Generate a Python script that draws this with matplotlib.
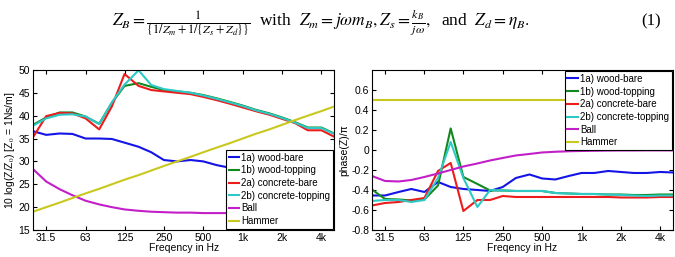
import matplotlib
matplotlib.use("Agg")
import matplotlib.pyplot as plt
from matplotlib.ticker import FixedLocator, NullLocator

plt.rcParams['font.family'] = ['Liberation Sans', 'DejaVu Sans']
plt.rcParams['mathtext.fontset'] = 'stix'

# third-octave band centre frequencies
freq = [25, 31.5, 40, 50, 63, 80, 100, 125, 160, 200, 250, 315,
        400, 500, 630, 800, 1000, 1250, 1600, 2000, 2500, 3150, 4000, 5000]

# impedance level, 10 log(Z/Z0)
lvl_wood_bare = [36.6, 35.8, 36.1, 36.0, 35.0, 35.0, 34.9, 34.1, 33.2, 32.0, 30.3, 30.0,
                 30.3, 30.0, 29.2, 28.6, 28.5, 28.2, 27.8, 27.3, 26.8, 26.3, 26.0, 25.7]
lvl_wood_top = [38.0, 39.6, 40.7, 40.7, 39.8, 38.2, 42.8, 46.5, 47.1, 46.3, 45.6, 45.3,
                45.0, 44.5, 43.8, 43.0, 42.2, 41.3, 40.5, 39.6, 38.6, 37.4, 37.4, 36.1]
lvl_conc_bare = [35.3, 39.9, 40.6, 40.5, 39.4, 37.0, 42.0, 49.1, 46.5, 45.6, 45.3, 45.0,
                 44.7, 44.1, 43.4, 42.6, 41.8, 41.0, 40.2, 39.3, 38.4, 36.8, 36.8, 35.4]
lvl_conc_top = [37.8, 39.4, 40.2, 40.3, 39.8, 38.2, 42.9, 46.8, 49.9, 46.7, 45.8, 45.4,
                45.0, 44.4, 43.7, 42.9, 42.1, 41.2, 40.4, 39.5, 38.5, 37.3, 37.3, 36.0]
lvl_ball = [28.3, 25.6, 23.9, 22.6, 21.4, 20.6, 20.0, 19.5, 19.2, 19.0, 18.9, 18.8,
            18.8, 18.7, 18.7, 18.7, 18.7, 18.7, 18.7, 18.7, 18.6, 18.6, 18.6, 18.6]
lvl_hammer = [19, 20, 21, 22, 23, 24, 25, 26, 27, 28, 29, 30,
              31, 32, 33, 34, 35, 36, 37, 38, 39, 40, 41, 42]

# phase(Z)/pi
ph_wood_bare = [-0.455, -0.455, -0.42, -0.39, -0.42, -0.32, -0.37, -0.39, -0.40, -0.41, -0.37, -0.28,
                -0.245, -0.285, -0.295, -0.26, -0.23, -0.23, -0.21, -0.22, -0.23, -0.23, -0.22, -0.225]
ph_wood_top = [-0.395, -0.49, -0.495, -0.505, -0.495, -0.355, 0.215, -0.27, -0.34, -0.405, -0.405, -0.41,
               -0.41, -0.41, -0.43, -0.435, -0.44, -0.44, -0.445, -0.445, -0.45, -0.45, -0.445, -0.445]
ph_conc_bare = [-0.555, -0.53, -0.52, -0.50, -0.48, -0.21, -0.13, -0.61, -0.50, -0.50, -0.46, -0.47,
                -0.47, -0.47, -0.47, -0.47, -0.47, -0.47, -0.47, -0.475, -0.475, -0.475, -0.47, -0.47]
ph_conc_top = [-0.51, -0.50, -0.50, -0.52, -0.50, -0.28, 0.08, -0.28, -0.57, -0.40, -0.405, -0.41,
               -0.41, -0.41, -0.43, -0.435, -0.44, -0.44, -0.445, -0.45, -0.455, -0.46, -0.455, -0.455]
ph_ball = [-0.26, -0.31, -0.315, -0.30, -0.27, -0.235, -0.20, -0.165, -0.135, -0.105, -0.08, -0.055,
           -0.04, -0.025, -0.018, -0.013, -0.01, -0.008, -0.006, -0.005, -0.005, -0.004, -0.004, -0.004]
ph_hammer = [0.5] * 24

labels = ['1a) wood-bare', '1b) wood-topping', '2a) concrete-bare',
          '2b) concrete-topping', 'Ball', 'Hammer']
colors = ['#1414e6', '#12891e', '#ec1c1c', '#2ec9c6', '#c21fc8', '#c8c81e']

xticks = [31.5, 63, 125, 250, 500, 1000, 2000, 4000]
xticklabels = ['31.5', '63', '125', '250', '500', '1k', '2k', '4k']

fig = plt.figure(figsize=(6.75, 2.57), dpi=100)

fig.text(0.475, 0.915,
         r'$Z_B=\frac{1}{\{1/Z_m+1/\{Z_s+Z_d\}\}}$  with  $Z_m=j\omega m_B, Z_s=\frac{k_B}{j\omega},$  and  $Z_d=\eta_B.$',
         ha='center', va='center', fontsize=12.5, family='Liberation Serif')
fig.text(0.965, 0.915, '(1)', ha='center', va='center', fontsize=12, family='Liberation Serif')


def style_axes(ax):
    ax.set_xscale('log')
    ax.set_xlim(25, 5000)
    ax.xaxis.set_major_locator(FixedLocator(xticks))
    ax.xaxis.set_minor_locator(NullLocator())
    ax.set_xticklabels(xticklabels)
    ax.tick_params(direction='in', top=True, right=True, labelsize=7.5, length=3, pad=2)
    ax.set_xlabel('Freqency in Hz', fontsize=7.5, labelpad=0)
    for s in ax.spines.values():
        s.set_linewidth(0.8)


def add_legend(ax, loc):
    leg = ax.legend(loc=loc, fontsize=7, borderaxespad=0.15, handlelength=1.1,
                    handletextpad=0.2, labelspacing=0.28, borderpad=0.25, fancybox=False,
                    framealpha=1, edgecolor='black')
    leg.get_frame().set_linewidth(0.8)


ax1 = fig.add_axes([0.049, 0.105, 0.446, 0.623])
for y, lab, c in zip([lvl_wood_bare, lvl_wood_top, lvl_conc_bare, lvl_conc_top, lvl_ball, lvl_hammer],
                     labels, colors):
    ax1.plot(freq, y, color=c, lw=1.5, label=lab)
style_axes(ax1)
ax1.set_ylim(15, 50)
ax1.set_yticks([15, 20, 25, 30, 35, 40, 45, 50])
ax1.set_ylabel(r'10 log(Z/Z$_0$) [Z$_0$ = 1Ns/m]', fontsize=7.5, labelpad=1)
add_legend(ax1, 'lower right')

ax2 = fig.add_axes([0.551, 0.105, 0.446, 0.623])
for y, lab, c in zip([ph_wood_bare, ph_wood_top, ph_conc_bare, ph_conc_top, ph_ball, ph_hammer],
                     labels, colors):
    ax2.plot(freq, y, color=c, lw=1.5, label=lab)
style_axes(ax2)
ax2.set_ylim(-0.8, 0.8)
ax2.set_yticks([-0.8, -0.6, -0.4, -0.2, 0, 0.2, 0.4, 0.6])
ax2.set_yticklabels(['-0.8', '-0.6', '-0.4', '-0.2', '0', '0.2', '0.4', '0.6'])
ax2.set_ylabel('phase(Z)/π', fontsize=7.5, labelpad=1)
add_legend(ax2, 'upper right')

fig.savefig('out.png', dpi=100)
